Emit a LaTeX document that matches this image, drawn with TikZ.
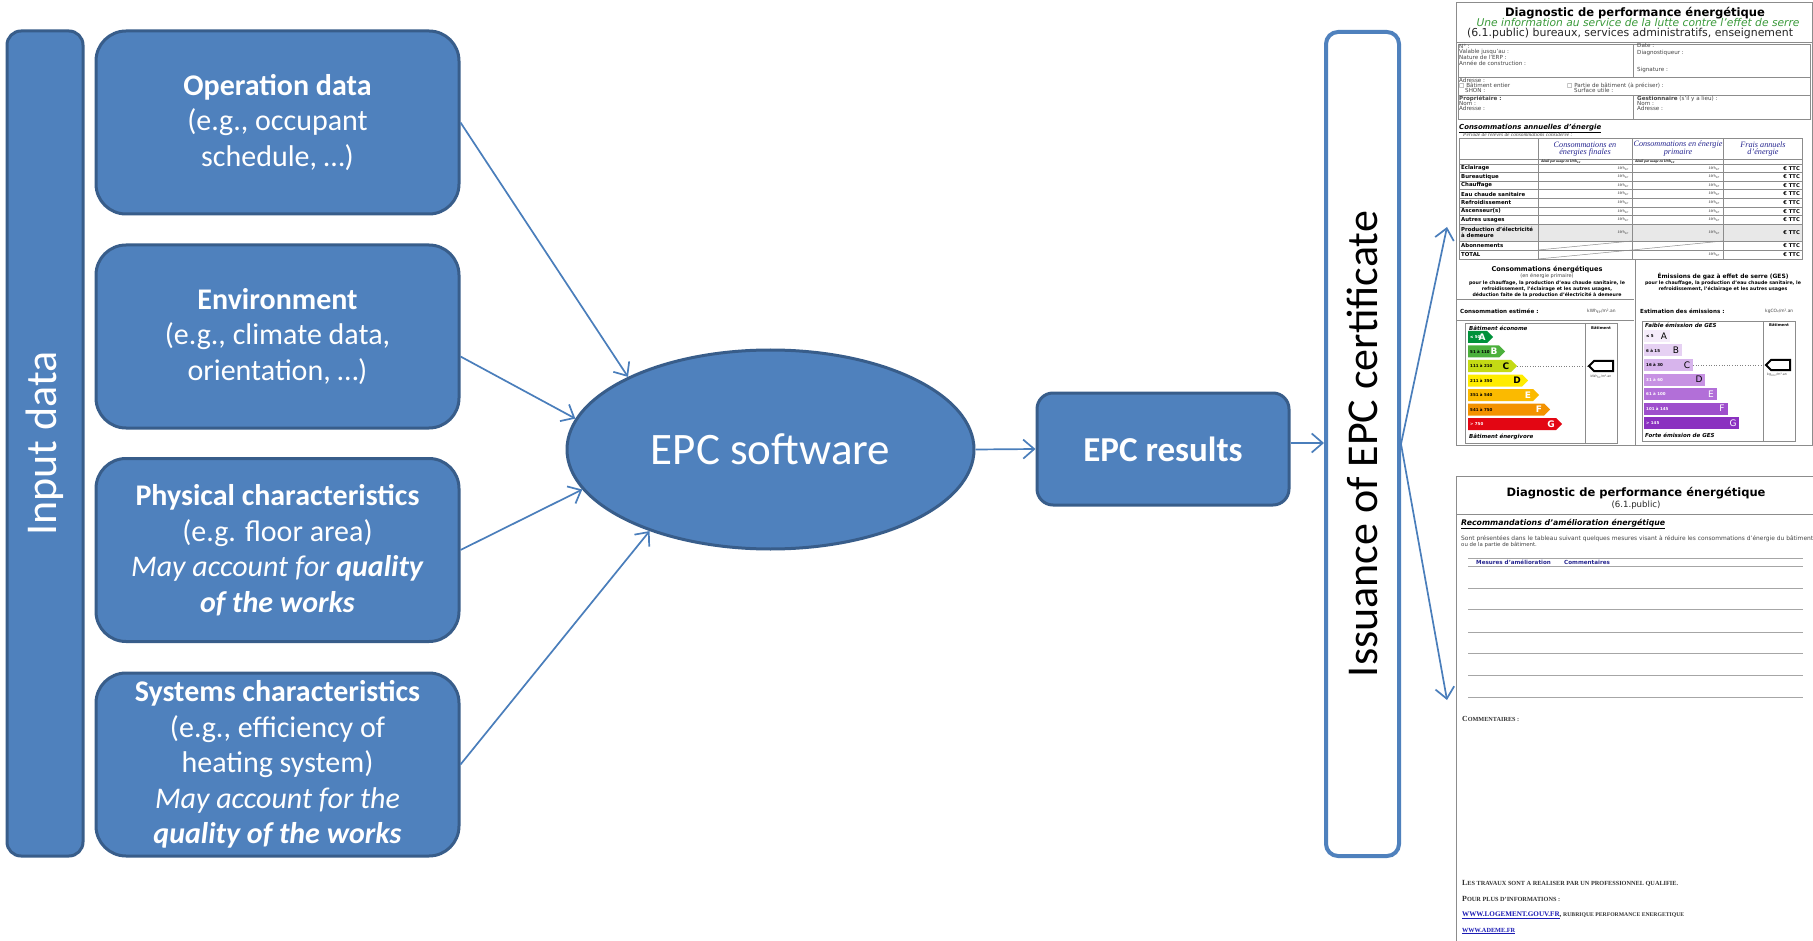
\documentclass[tikz,border=0pt]{standalone}
\usepackage{fontspec}
\usepackage{graphicx}
\setmainfont{Carlito}
\newfontfamily\docf{DejaVu Sans}
\newfontfamily\docs{Liberation Serif}
\usetikzlibrary{shapes.geometric,arrows.meta,calc}
\definecolor{boxblue}{HTML}{4F81BD}
\definecolor{boxedge}{HTML}{385D8A}
\definecolor{arrblue}{HTML}{4A7EBB}
\definecolor{issedge}{HTML}{4F81BD}
\definecolor{ghead}{HTML}{3A9A3A}
\definecolor{navy}{HTML}{25258F}
\definecolor{linkb}{HTML}{1C1CB4}
\definecolor{docline}{HTML}{8C8C8C}
\definecolor{doctext}{HTML}{444444}
\definecolor{eA}{HTML}{00913A}
\definecolor{eB}{HTML}{4CB03C}
\definecolor{eC}{HTML}{C4DA14}
\definecolor{eD}{HTML}{FFEC00}
\definecolor{eE}{HTML}{FBBA00}
\definecolor{eF}{HTML}{F39200}
\definecolor{eG}{HTML}{E30613}
\definecolor{gA}{HTML}{F5ECFA}
\definecolor{gB}{HTML}{E6D1F3}
\definecolor{gC}{HTML}{D7B4EC}
\definecolor{gD}{HTML}{C792E3}
\definecolor{gE}{HTML}{B26FD8}
\definecolor{gF}{HTML}{9E4FCC}
\definecolor{gG}{HTML}{8A31C0}
\newcommand\myfz[1]{\fontsize{#1pt}{#1pt}\selectfont}
\newcommand\myfs[2]{\fontsize{#1pt}{#2pt}\selectfont}
\begin{document}
\begin{tikzpicture}[x=1pt,y=-1pt,
  inbox/.style={draw=boxedge,line width=3pt,fill=boxblue,rounded corners=30pt,
    minimum width=363pt,minimum height=183pt,inner sep=0pt,text=white,align=center,
    font=\myfs{30}{35.5}},
  arr/.style={draw=arrblue,line width=1.7pt,-{Straight Barb[length=11pt,width=19pt]}},
  dt/.style={inner sep=0pt,anchor=west,text=doctext,font=\docf\myfz{5.6}},
  rl/.style={inner sep=0pt,anchor=west,text=black,font=\docf\bfseries\myfz{5.4}},
  val/.style={inner sep=0pt,anchor=east,text=doctext,font=\docs\itshape\myfz{4}},
  eur/.style={inner sep=0pt,anchor=east,text=black,font=\docf\bfseries\myfz{5.2}},
  chd/.style={inner sep=0pt,text=navy,font=\docs\itshape\myfz{8.2}},
  dl/.style={draw=docline,line width=0.8pt},
  tl/.style={draw=black!35,line width=1pt},
]
\useasboundingbox (0,0) rectangle (1813,941);
\fill[white] (0,0) rectangle (1813,941);

% ---------------- left column ----------------
\node[draw=boxedge,line width=3pt,fill=boxblue,rounded corners=14pt,minimum width=76pt,
  minimum height=825pt,inner sep=0pt] (inp) at (45,443.5) {};
\node[rotate=90,inner sep=0pt,text=white,font=\myfz{44}] (inptext) at (inp.center) {Input data};

\node[inbox] (op) at (277.5,122.5) {\textbf{Operation data}\\(e.g., occupant\\schedule, \ldots)};
\node[inbox] (env) at (277.5,336.5) {\textbf{Environment}\\(e.g., climate data,\\orientation, \ldots)};
\node[inbox] (phys) at (277.5,550) {\textbf{Physical characteristics}\\(e.g. floor area)\\\textit{May account for \textbf{quality}}\\\textit{\textbf{of the works}}};
\node[inbox] (sys) at (277.5,764.5) {\textbf{Systems characteristics}\\(e.g., efficiency of\\heating system)\\\textit{May account for the}\\\textit{\textbf{quality of the works}}};

% ---------------- centre ----------------
\node[ellipse,draw=boxedge,line width=3pt,fill=boxblue,minimum width=407pt,minimum height=199pt,
  inner sep=0pt,text=white,font=\myfz{45}] (sw) at (770.5,449.5) {EPC software};
\node[draw=boxedge,line width=3pt,fill=boxblue,rounded corners=16pt,minimum width=252pt,
  minimum height=112pt,inner sep=0pt,text=white,font=\bfseries\myfz{35}] (res) at (1163,449) {EPC results};
\node[draw=issedge,line width=4pt,fill=white,rounded corners=12pt,minimum width=73pt,
  minimum height=824pt,inner sep=0pt] (iss) at (1362.5,444) {};
\node[rotate=90,inner sep=0pt,text=black,font=\myfz{44}] (isstext) at (iss.center) {Issuance of EPC certificate};

\draw[arr] (op.east) -- (sw.153.4);
\draw[arr] ($(env.east)+(0,20)$) -- (sw.171.1);
\draw[arr] (phys.east) -- (sw.192.5);
\draw[arr] (sys.east) -- (sw.214.9);
\draw[arr] (sw.east) -- (res.west);
\draw[arr] ($(res.east)+(0,-6)$) -- ($(res.east -| iss.west)+(0,-6)$);
\coordinate (doca) at (1447,227);
\coordinate (docb) at (1447,700);
\draw[arr] (iss.east) -- (doca);
\draw[arr] (iss.east) -- (docb);

% ---------------- document 1 ----------------
\draw[dl] (1456,2) rectangle (1812,445);
\node[inner sep=0pt,text=black,font=\docf\bfseries] (h1) at (1635,12.7) {\resizebox{260pt}{!}{Diagnostic de performance énergétique}};
\node[inner sep=0pt,text=ghead,font=\docf\itshape] (h2) at (1638,22.7) {\resizebox{323pt}{!}{Une information au service de la lutte contre l’effet de serre}};
\node[inner sep=0pt,text=black!85,font=\docf] (h3) at (1630,33) {\resizebox{326pt}{!}{(6.1.public) bureaux, services administratifs, enseignement}};
\draw[dl] (1456,42) -- (1812,42);
\draw[dl] (1458,44) rectangle (1810,77);
\draw[dl] (1633,44) -- (1633,77);
\draw[dl] (1458,77) rectangle (1810,95);
\draw[dl] (1458,95) rectangle (1810,119);
\draw[dl] (1633,95) -- (1633,119);
\node[dt] (i1) at (1459,46) {N° :};
\node[dt] (i2) at (1459,51.7) {Valable jusqu’au :};
\node[dt] (i3) at (1459,57.4) {Nature de l’ERP :};
\node[dt] (i4) at (1459,63.3) {Année de construction :};
\node[dt] (i5) at (1637,46) {Date :};
\node[dt] (i6) at (1637,53.3) {Diagnostiqueur :};
\node[dt] (i7) at (1637,70) {Signature :};
\node[dt] (a1) at (1459,80.5) {Adresse :};
\node[dt] (a2) at (1459,85.5) {□ Bâtiment entier};
\node[dt] (a3) at (1465,90.5) {SHON :};
\node[dt] (a4) at (1567,85.5) {□ Partie de bâtiment (à préciser) :};
\node[dt] (a5) at (1574,90.5) {Surface utile :};
\node[dt] (p1) at (1459,98.5) {\textbf{Propriétaire :}};
\node[dt] (p2) at (1459,103.5) {Nom :};
\node[dt] (p3) at (1459,108.5) {Adresse :};
\node[dt] (p4) at (1637,98.5) {\textbf{Gestionnaire} (s’il y a lieu) :};
\node[dt] (p5) at (1637,103.5) {Nom :};
\node[dt] (p6) at (1637,108.5) {Adresse :};

\node[inner sep=0pt,anchor=west,text=black,font=\docf\bfseries\itshape] (c1) at (1459,128) {\resizebox{142pt}{!}{\underline{Consommations annuelles d’énergie}}};
\node[inner sep=0pt,anchor=west,text=doctext,font=\docs\itshape\myfz{5.4}] (c2) at (1463,134.5) {Période de relevés de consommations considérée :};

\fill[black!9] (1459,224.2) rectangle (1802,241);
\draw[dl] (1459,138) rectangle (1802,259);
\foreach \xx in {1538,1632,1723} \draw[dl] (\xx,138) -- (\xx,259);
\foreach \yy in {159,164,172.6,181.2,189.8,198.4,207,215.6,224.2,241,250} \draw[dl] (1459,\yy) -- (1802,\yy);
\draw[dl,line width=0.5pt] (1538,250) -- (1632,241);
\draw[dl,line width=0.5pt] (1632,250) -- (1723,241);
\draw[dl,line width=0.5pt] (1538,259) -- (1632,250);

\node[chd] (ch1) at (1585,145) {Consommations en};
\node[chd] (ch2) at (1585,152.5) {énergies finales};
\node[chd] (ch3) at (1678,145) {Consommations en énergie};
\node[chd] (ch4) at (1678,152.5) {primaire};
\node[chd] (ch5) at (1763,145) {Frais annuels};
\node[chd] (ch6) at (1763,152.5) {d’énergie};
\node[inner sep=0pt,anchor=west,font=\docs\bfseries\itshape\myfz{3.6}] (sh1) at (1541,161.5) {détail par usage en kWh\textsubscript{EF}};
\node[inner sep=0pt,anchor=west,font=\docs\bfseries\itshape\myfz{3.6}] (sh2) at (1635,161.5) {détail par usage en kWh\textsubscript{EP}};

\foreach \lab/\yc [count=\i] in {Eclairage/168.3,Bureautique/176.9,Chauffage/185.5,{Eau chaude sanitaire}/194.1,Refroidissement/202.7,{Ascenseur(s)}/211.3,{Autres usages}/219.9}{
  \node[rl] (rl\i) at (1461,\yc) {\lab};
  \node[val] (ve\i) at (1629,\yc) {kWh\textsubscript{EF}};
  \node[val] (vp\i) at (1720,\yc) {kWh\textsubscript{EP}};
  \node[eur] (vc\i) at (1800,\yc) {€ TTC};
}
\node[rl] (rl8) at (1461,229.6) {Production d’électricité};
\node[rl] (rl8b) at (1461,235.6) {à demeure};
\node[val] (ve8) at (1629,232.6) {kWh\textsubscript{EF}};
\node[val] (vp8) at (1720,232.6) {kWh\textsubscript{EP}};
\node[eur] (vc8) at (1800,232.6) {€ TTC};
\node[rl] (rl9) at (1461,245.5) {Abonnements};
\node[eur] (vc9) at (1800,245.5) {€ TTC};
\node[rl] (rl10) at (1461,254.5) {TOTAL};
\node[val] (vp10) at (1720,254.5) {kWh\textsubscript{EP}};
\node[eur] (vc10) at (1800,254.5) {€ TTC};

% bottom panels
\draw[dl] (1635,259) -- (1635,445);
\draw[dl] (1457,299) -- (1634,299);
\draw[dl] (1457,320) -- (1634,320);
\node[inner sep=0pt,font=\docf\bfseries\myfz{6.6},text=black] (b1) at (1547,270) {Consommations énergétiques};
\node[inner sep=0pt,font=\docf\myfz{5},text=doctext] (b2) at (1547,276.5) {(en énergie primaire)};
\node[inner sep=0pt,font=\docf\bfseries\myfz{4.7},text=black] (b3) at (1547,283) {pour le chauffage, la production d’eau chaude sanitaire, le};
\node[inner sep=0pt,font=\docf\bfseries\myfz{4.7},text=black] (b4) at (1547,289) {refroidissement, l’éclairage et les autres usages,};
\node[inner sep=0pt,font=\docf\bfseries\myfz{4.7},text=black] (b5) at (1547,295) {déduction faite de la production d’électricité à demeure};
\node[inner sep=0pt,anchor=west,font=\docf\bfseries\myfz{5.6},text=black] (b6) at (1460,311) {Consommation estimée :};
\node[inner sep=0pt,anchor=west,font=\docf\myfz{4.4},text=doctext] (b7) at (1587,311) {kWh\textsubscript{EP}/m².an};
\node[inner sep=0pt,font=\docf\bfseries\myfz{5.9},text=black] (g1) at (1723,276) {Émissions de gaz à effet de serre (GES)};
\node[inner sep=0pt,font=\docf\bfseries\myfz{4.7},text=black] (g2) at (1723,283) {pour le chauffage, la production d’eau chaude sanitaire, le};
\node[inner sep=0pt,font=\docf\bfseries\myfz{4.7},text=black] (g3) at (1723,289) {refroidissement, l’éclairage et les autres usages};
\node[inner sep=0pt,anchor=west,font=\docf\bfseries\myfz{5.6},text=black] (g4) at (1640,311) {Estimation des émissions :};
\node[inner sep=0pt,anchor=west,font=\docf\myfz{4.4},text=doctext] (g5) at (1765,311) {kgCO₂/m².an};

% energy label
\draw[dl] (1465,323) rectangle (1617,443);
\draw[dl] (1585,323) -- (1585,443);
\node[inner sep=0pt,anchor=west,font=\docf\bfseries\itshape\myfz{5.5},text=black] (e0) at (1469,328) {Bâtiment économe};
\node[inner sep=0pt,font=\docf\bfseries\myfz{3.8},text=black] (e00) at (1601,328) {Bâtiment};
\foreach \lt/\rg/\yc/\xt/\cl/\tc/\rc [count=\i] in {A/{≤ 50}/337/1493/eA/white/white,B/{51 à 110}/351.5/1505/eB/white/black,C/{111 à 210}/366/1517/eC/black/black,D/{211 à 350}/380.5/1528/eD/black/black,E/{351 à 540}/395/1539/eE/white/black,F/{541 à 750}/409.5/1550/eF/white/black,G/{> 750}/424/1562/eG/white/white}{
  \fill[\cl] (1468,\yc-6) -- (\xt-6,\yc-6) -- (\xt,\yc) -- (\xt-6,\yc+6) -- (1468,\yc+6) -- cycle;
  \node[inner sep=0pt,anchor=west,font=\docf\bfseries\myfz{4},text=\rc] (er\i) at (1470,\yc) {\rg};
  \node[inner sep=0pt,font=\docf\bfseries\myfz{9},text=\tc] (el\i) at (\xt-11,\yc) {\lt};
}
\node[inner sep=0pt,anchor=west,font=\docf\bfseries\itshape\myfz{5.5},text=black] (e9) at (1469,437) {Bâtiment énergivore};
\draw[black!50,dotted,line width=0.6pt] (1517,366) -- (1589,366);
\draw[black,line width=2pt,fill=white] (1613,361) -- (1594,361) -- (1589,366) -- (1594,371) -- (1613,371) -- cycle;
\node[inner sep=0pt,font=\docf\myfz{3.2},text=doctext] (eu) at (1601,377) {kWh\textsubscript{EP}/m².an};

% GES label
\draw[dl] (1642,321) rectangle (1795,441);
\draw[dl] (1763,321) -- (1763,441);
\node[inner sep=0pt,anchor=west,font=\docf\bfseries\itshape\myfz{5.5},text=black] (f0) at (1645,325.5) {Faible émission de GES};
\node[inner sep=0pt,font=\docf\bfseries\myfz{3.8},text=black] (f00) at (1779,325.5) {Bâtiment};
\foreach \lt/\rg/\yc/\xr/\cl/\tc/\rc [count=\i] in {A/{≤ 5}/336/1670/gA/black/black,B/{6 à 15}/350.5/1682/gB/black/black,C/{16 à 30}/365/1693/gC/black/black,D/{31 à 60}/379.5/1705/gD/black/white,E/{61 à 100}/394/1717/gE/white/white,F/{101 à 145}/408.5/1728/gF/white/white,G/{> 145}/423/1739/gG/white/white}{
  \fill[\cl] (1644,\yc-6) rectangle (\xr,\yc+6);
  \node[inner sep=0pt,anchor=west,font=\docf\bfseries\myfz{4},text=\rc] (gr\i) at (1646,\yc) {\rg};
  \node[inner sep=0pt,font=\docf\myfz{9},text=\tc] (gl\i) at (\xr-6,\yc) {\lt};
}
\node[inner sep=0pt,anchor=west,font=\docf\bfseries\itshape\myfz{5.5},text=black] (f9) at (1645,435) {Forte émission de GES};
\draw[black!50,dotted,line width=0.6pt] (1693,365) -- (1766,365);
\draw[black,line width=2pt,fill=white] (1790,360) -- (1771,360) -- (1766,365) -- (1771,370) -- (1790,370) -- cycle;
\node[inner sep=0pt,font=\docf\myfz{3.2},text=doctext] (fu) at (1777,375) {kg\textsubscript{CO2}/m².an};

% ---------------- document 2 ----------------
\draw[dl] (1456,941) -- (1456,476) -- (1813,476);
\draw[dl] (1456,514) -- (1813,514);
\node[inner sep=0pt,text=black,font=\docf\bfseries] (k1) at (1636,493) {\resizebox{259pt}{!}{Diagnostic de performance énergétique}};
\node[inner sep=0pt,text=black!85,font=\docf\myfz{8.6}] (k2) at (1636,505) {(6.1.public)};
\node[inner sep=0pt,anchor=west,text=black,font=\docf\bfseries\itshape] (k3) at (1461,524) {\resizebox{204pt}{!}{\underline{Recommandations d’amélioration énergétique}}};
\node[inner sep=0pt,anchor=west,text=doctext,font=\docf] (k4) at (1461,539) {\resizebox{352pt}{!}{Sont présentées dans le tableau suivant quelques mesures visant à réduire les consommations d’énergie du bâtiment}};
\node[inner sep=0pt,anchor=west,text=doctext,font=\docf\myfz{5.4}] (k5) at (1461,544.5) {ou de la partie de bâtiment.};
\foreach \yy in {558,566,588,609,632,653,675,697} \draw[tl] (1468,\yy) -- (1803,\yy);
\node[inner sep=0pt,anchor=west,text=navy,font=\docf\bfseries\myfz{5.6}] (k6) at (1476,562) {Mesures d’amélioration};
\node[inner sep=0pt,anchor=west,text=navy,font=\docf\bfseries\myfz{5.6}] (k7) at (1564,562) {Commentaires};
\node[inner sep=0pt,anchor=west,text=black!80,font=\docs\bfseries] (k8) at (1462,719) {\resizebox{57pt}{!}{{\myfz{10}C}{\myfz{8}OMMENTAIRES :}}};
\node[inner sep=0pt,anchor=west,text=black!80,font=\docs\bfseries] (k9) at (1462,883) {\resizebox{216pt}{!}{{\myfz{10}L}{\myfz{8}ES TRAVAUX SONT A REALISER PAR UN PROFESSIONNEL QUALIFIE.}}};
\node[inner sep=0pt,anchor=west,text=black!80,font=\docs\bfseries] (k10) at (1462,899) {\resizebox{98pt}{!}{{\myfz{10}P}{\myfz{8}OUR PLUS D’INFORMATIONS :}}};
\node[inner sep=0pt,anchor=west,text=black!80,font=\docs\bfseries] (k11) at (1462,915) {\resizebox{222pt}{!}{\textcolor{linkb}{\underline{{\myfz{10}WWW.LOGEMENT.GOUV.FR}}}{\myfz{10},} {\myfz{8}RUBRIQUE PERFORMANCE ENERGETIQUE}}};
\node[inner sep=0pt,anchor=west,text=linkb,font=\docs\bfseries] (k12) at (1462,931) {\resizebox{53pt}{!}{\underline{{\myfz{10}WWW.ADEME.FR}}}};
\end{tikzpicture}
\end{document}
